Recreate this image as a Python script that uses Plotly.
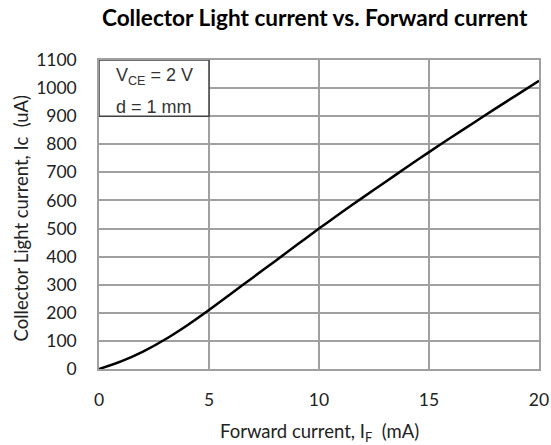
import plotly.graph_objects as go

# Forward current I_F (mA) vs collector light current Ic (uA)
forward_ma = [0, 1, 2, 3, 4, 5, 6, 7, 8, 9, 10, 11, 12, 13, 14, 15, 16, 17, 18, 19, 20]
collector_ua = [0, 27, 62, 105, 155, 210, 268, 326, 384, 442, 500,
                556, 611, 665, 719, 772, 824, 875, 926, 976, 1026]

x_ticks = [0, 5, 10, 15, 20]
y_ticks = list(range(0, 1101, 100))

grid = "#a0a0a0"
font = "Lato, Carlito, sans-serif"
box_font = dict(family="Liberation Sans, Arial", size=18, color="#333")
title_font = dict(family=font, size=18.5, color="#222")

fig = go.Figure(
    go.Scatter(
        x=forward_ma,
        y=collector_ua,
        mode="lines",
        line=dict(color="black", width=2.5, shape="spline", smoothing=0.8),
        showlegend=False,
    )
)

# condition box in the top-left cell
fig.add_shape(
    type="rect", x0=0, x1=5, y0=900, y1=1100, xref="x", yref="y",
    line=dict(color="#404040", width=1.5), fillcolor="white", layer="above",
)
fig.add_annotation(x=2.5, y=1040, xref="x", yref="y", showarrow=False,
                   text="V<sub>CE</sub> = 2 V", font=box_font)
fig.add_annotation(x=2.5, y=934, xref="x", yref="y", showarrow=False,
                   text="d = 1 mm", font=box_font)

# axis titles
fig.add_annotation(x=0.5, y=0, xref="paper", yref="paper", yanchor="middle",
                   yshift=-63, showarrow=False, font=title_font,
                   text="Forward current, I<sub>F</sub>  (mA)")
fig.add_annotation(x=0, y=0.5, xref="paper", yref="paper", xanchor="center",
                   yanchor="middle", xshift=-79, yshift=-4, textangle=-90,
                   showarrow=False, font=title_font,
                   text="Collector Light current, Ic  (uA)")

fig.update_layout(
    width=551,
    height=445,
    margin=dict(l=99, r=12, t=60, b=76),
    paper_bgcolor="white",
    plot_bgcolor="white",
    title=dict(
        text="<b>Collector Light current vs. Forward current</b>",
        x=0.571, xanchor="center", y=0.96, yanchor="middle",
        font=dict(family=font, size=22.6, color="black"),
    ),
    font=dict(family=font, size=17.5, color="#222"),
)
fig.update_xaxes(
    range=[0, 20], tickvals=x_ticks, showgrid=True, gridcolor=grid, gridwidth=1.5,
    showline=True, linecolor=grid, linewidth=1.5, mirror=True, zeroline=False,
    ticks="outside", ticklen=14, tickcolor="rgba(0,0,0,0)", automargin=False,
)
fig.update_yaxes(
    range=[0, 1100], tickvals=y_ticks, showgrid=True, gridcolor=grid, gridwidth=1.5,
    showline=True, linecolor=grid, linewidth=1.5, mirror=True, zeroline=False,
    ticks="outside", ticklen=17, tickcolor="rgba(0,0,0,0)", automargin=False,
)

# drop the default 8px page margin so the figure fills the window
fig.write_html(
    "out.html",
    config={"displayModeBar": False},
    post_script="document.body.style.margin = '0'; document.body.style.overflow = 'hidden';",
)
